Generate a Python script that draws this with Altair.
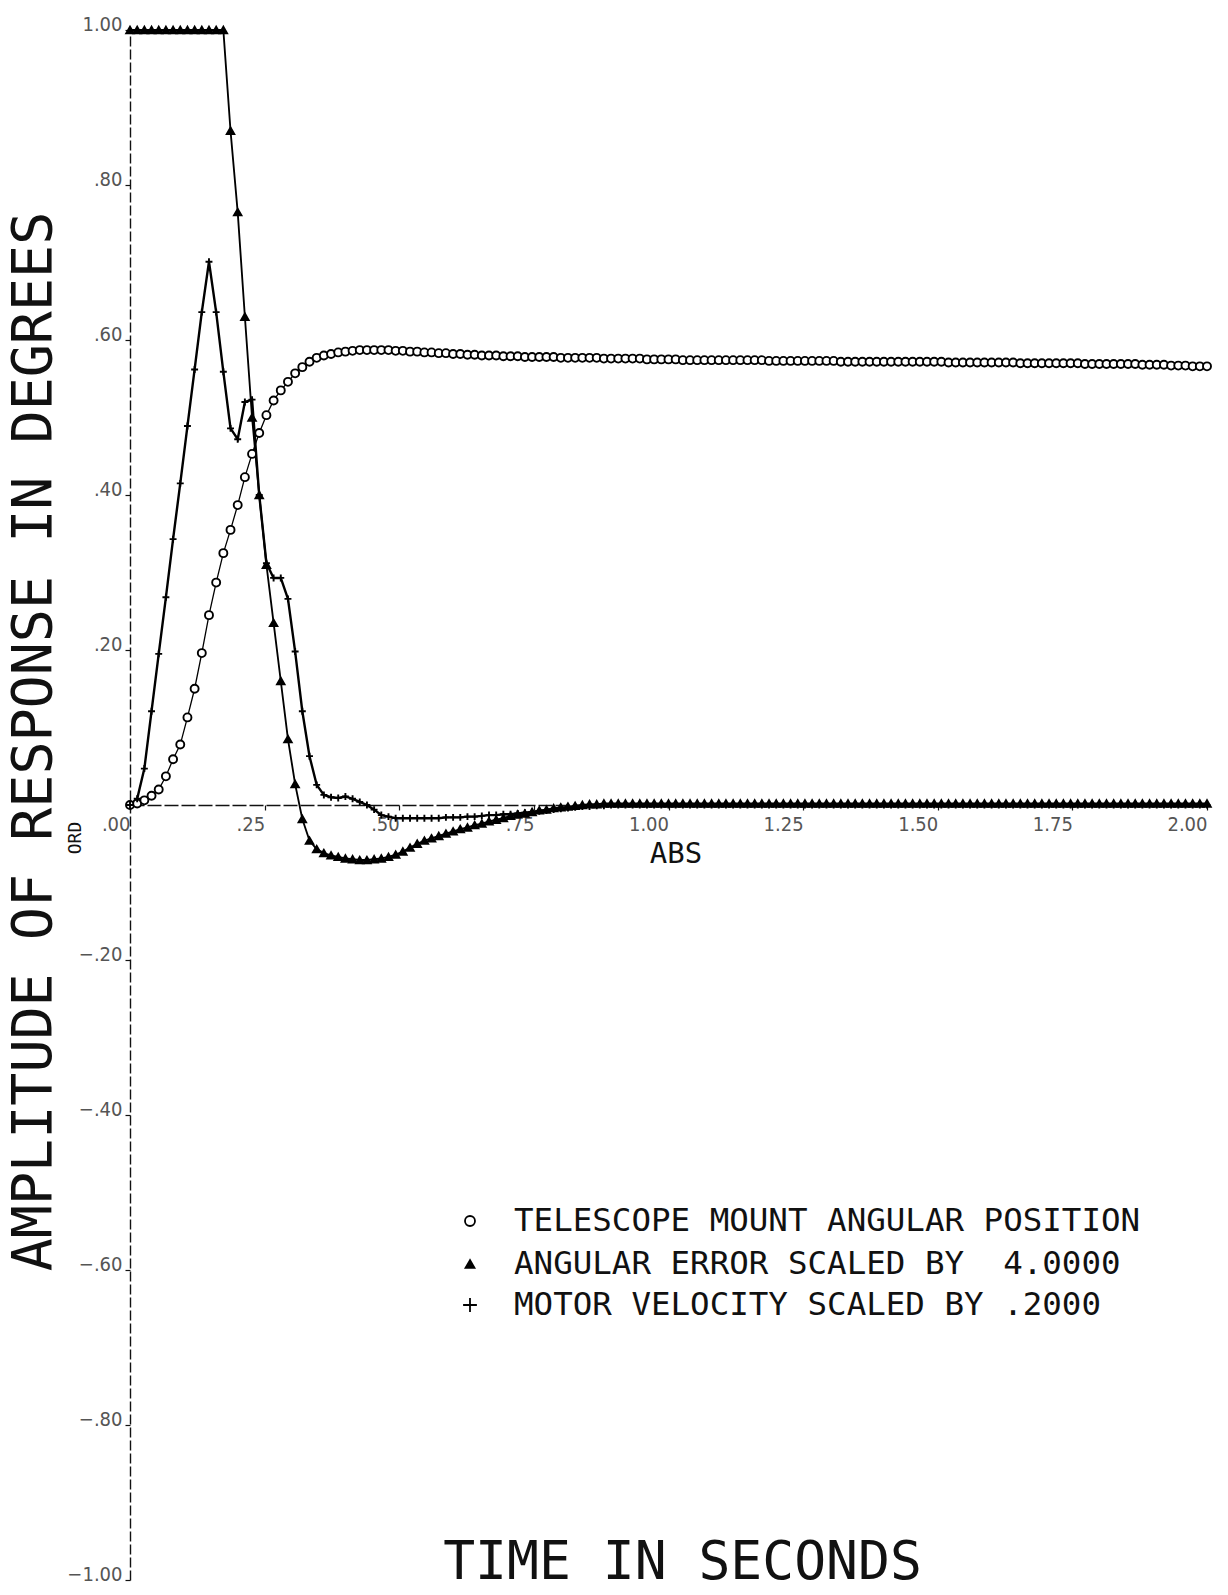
import altair as alt
import pandas as pd

# Samples are plotted every 1/75 s from 0 to 2 s (151 samples per trace).
SAMPLE_INTERVAL = 1 / 75

# Telescope mount angular position (degrees)
position = [
    0.000, 0.002, 0.006, 0.012, 0.020, 0.037, 0.059, 0.078, 0.113, 0.150,
    0.196, 0.245, 0.287, 0.325, 0.355, 0.387, 0.423, 0.453, 0.480, 0.503,
    0.522, 0.535, 0.546, 0.557, 0.565, 0.572, 0.577, 0.580, 0.582, 0.584,
    0.585, 0.586, 0.587, 0.587, 0.587, 0.587, 0.587, 0.586, 0.586, 0.585,
    0.585, 0.584, 0.584, 0.583, 0.583, 0.582, 0.582, 0.581, 0.581, 0.580,
    0.580, 0.580, 0.579, 0.579, 0.579, 0.578, 0.578, 0.578, 0.578, 0.578,
    0.577, 0.577, 0.577, 0.577, 0.577, 0.577, 0.576, 0.576, 0.576, 0.576,
    0.576, 0.576, 0.575, 0.575, 0.575, 0.575, 0.575, 0.574, 0.574, 0.574,
    0.574, 0.574, 0.574, 0.574, 0.574, 0.574, 0.574, 0.574, 0.574, 0.573,
    0.573, 0.573, 0.573, 0.573, 0.573, 0.573, 0.573, 0.573, 0.573, 0.572,
    0.572, 0.572, 0.572, 0.572, 0.572, 0.572, 0.572, 0.572, 0.572, 0.572,
    0.572, 0.572, 0.572, 0.572, 0.571, 0.571, 0.571, 0.571, 0.571, 0.571,
    0.571, 0.571, 0.571, 0.571, 0.570, 0.570, 0.570, 0.570, 0.570, 0.570,
    0.570, 0.570, 0.570, 0.569, 0.569, 0.569, 0.569, 0.569, 0.569, 0.569,
    0.569, 0.568, 0.568, 0.568, 0.568, 0.567, 0.567, 0.567, 0.566, 0.566,
    0.566,
]

# Angular error, scaled by 4 (clipped at the top of the frame)
error_x4 = [
    1.000, 1.000, 1.000, 1.000, 1.000, 1.000, 1.000, 1.000, 1.000, 1.000,
    1.000, 1.000, 1.000, 1.000, 0.870, 0.765, 0.630, 0.500, 0.400, 0.310,
    0.235, 0.160, 0.085, 0.027, -0.018, -0.046, -0.057, -0.062, -0.065, -0.067,
    -0.069, -0.070, -0.071, -0.071, -0.070, -0.069, -0.067, -0.064, -0.060, -0.055,
    -0.050, -0.046, -0.043, -0.040, -0.037, -0.034, -0.031, -0.029, -0.026, -0.024,
    -0.021, -0.019, -0.017, -0.014, -0.012, -0.011, -0.009, -0.007, -0.006, -0.004,
    -0.003, -0.002, -0.001, 0.000, 0.001, 0.001, 0.002, 0.002, 0.002, 0.002,
    0.002, 0.002, 0.002, 0.002, 0.002, 0.002, 0.002, 0.002, 0.002, 0.002,
    0.002, 0.002, 0.002, 0.002, 0.002, 0.002, 0.002, 0.002, 0.002, 0.002,
    0.002, 0.002, 0.002, 0.002, 0.002, 0.002, 0.002, 0.002, 0.002, 0.002,
    0.002, 0.002, 0.002, 0.002, 0.002, 0.002, 0.002, 0.002, 0.002, 0.002,
    0.002, 0.002, 0.002, 0.002, 0.002, 0.002, 0.002, 0.002, 0.002, 0.002,
    0.002, 0.002, 0.002, 0.002, 0.002, 0.002, 0.002, 0.002, 0.002, 0.002,
    0.002, 0.002, 0.002, 0.002, 0.002, 0.002, 0.002, 0.002, 0.002, 0.002,
    0.002, 0.002, 0.002, 0.002, 0.002, 0.002, 0.002, 0.002, 0.002, 0.002,
    0.002,
]

# Motor velocity, scaled by 0.2
velocity_x02 = [
    0.000, 0.008, 0.047, 0.121, 0.195, 0.268, 0.343, 0.415, 0.489, 0.562,
    0.636, 0.701, 0.636, 0.559, 0.486, 0.472, 0.520, 0.523, 0.400, 0.312,
    0.293, 0.293, 0.266, 0.198, 0.121, 0.063, 0.026, 0.013, 0.010, 0.009,
    0.011, 0.008, 0.004, 0.000, -0.006, -0.013, -0.015, -0.017, -0.017, -0.017,
    -0.017, -0.017, -0.017, -0.017, -0.016, -0.016, -0.016, -0.015, -0.015, -0.014,
    -0.013, -0.013, -0.012, -0.012, -0.011, -0.010, -0.009, -0.008, -0.007, -0.006,
    -0.005, -0.004, -0.003, -0.002, -0.002, -0.001, -0.001, 0.000, 0.000, 0.000,
    0.000, 0.000, 0.000, 0.000, 0.000, 0.000, 0.000, 0.000, 0.000, 0.000,
    0.000, 0.000, 0.000, 0.000, 0.000, 0.000, 0.000, 0.000, 0.000, 0.000,
    0.000, 0.000, 0.000, 0.000, 0.000, 0.000, 0.000, 0.000, 0.000, 0.000,
    0.000, 0.000, 0.000, 0.000, 0.000, 0.000, 0.000, 0.000, 0.000, 0.000,
    0.000, 0.000, 0.000, 0.000, 0.000, 0.000, 0.000, 0.000, 0.000, 0.000,
    0.000, 0.000, 0.000, 0.000, 0.000, 0.000, 0.000, 0.000, 0.000, 0.000,
    0.000, 0.000, 0.000, 0.000, 0.000, 0.000, 0.000, 0.000, 0.000, 0.000,
    0.000, 0.000, 0.000, 0.000, 0.000, 0.000, 0.000, 0.000, 0.000, 0.000,
    0.000,
]

series_labels = [
    "TELESCOPE MOUNT ANGULAR POSITION",
    "ANGULAR ERROR SCALED BY\u00a0 4.0000",
    "MOTOR VELOCITY SCALED BY .2000",
]

x_ticks = [0.0, 0.25, 0.5, 0.75, 1.0, 1.25, 1.5, 1.75, 2.0]
y_ticks = [1.0, 0.8, 0.6, 0.4, 0.2, -0.2, -0.4, -0.6, -0.8, -1.0]

rows = []
for label, values in zip(series_labels, [position, error_x4, velocity_x02]):
    for k, v in enumerate(values):
        rows.append({"series": label, "t": k * SAMPLE_INTERVAL, "amp": v})
df = pd.DataFrame(rows)

W, H = 1077, 1550
MONO = "DejaVu Sans Mono"
TICKFONT = "DejaVu Sans Condensed"
INK = "#111111"
FAINT = "#555555"

# drop the leading zero the way the plotter prints it: 0.25 -> .25
tick_expr = "replace(format(datum.value, '.2f'), '0.', '.')"

x_enc = alt.X(
    "t:Q",
    scale=alt.Scale(domain=[0, 2], nice=False, zero=False),
    axis=alt.Axis(
        values=x_ticks,
        labelExpr=tick_expr,
        offset=-(H / 2),
        grid=False,
        domainColor=INK,
        domainWidth=1.4,
        domainDash=[14, 3],
        tickColor=INK,
        tickSize=5,
        tickWidth=1.2,
        labelFont=TICKFONT,
        labelFontSize=20,
        labelColor=FAINT,
        labelAlign="right",
        labelBaseline="top",
        labelPadding=4,
        labelFlush=False,
        labelOverlap=False,
        title="TIME IN SECONDS",
        titleFont=MONO,
        titleFontSize=53,
        titleFontWeight="normal",
        titleColor=INK,
        titleX=552,
        titleY=773,
        titleAlign="center",
        titleBaseline="alphabetic",
    ),
)

y_enc = alt.Y(
    "amp:Q",
    scale=alt.Scale(domain=[-1, 1], nice=False, zero=False),
    axis=alt.Axis(
        values=y_ticks,
        labelExpr=tick_expr,
        grid=False,
        domainColor=INK,
        domainWidth=1.4,
        domainDash=[10, 3],
        tickColor=INK,
        tickSize=5,
        tickWidth=1.2,
        labelFont=TICKFONT,
        labelFontSize=20,
        labelColor=FAINT,
        labelBaseline="alphabetic",
        labelPadding=3,
        labelFlush=False,
        labelOverlap=False,
        title="AMPLITUDE OF RESPONSE IN DEGREES",
        titleFont=MONO,
        titleFontSize=55,
        titleFontWeight="normal",
        titleColor=INK,
        titleAngle=270,
        titleX=-80,
        titleY=711,
        titleAlign="center",
        titleBaseline="alphabetic",
    ),
)

shape_scale = alt.Scale(
    domain=series_labels,
    range=["circle", "triangle-up", "M-1,0H1M0,-1V1"],
)
fill_scale = alt.Scale(domain=series_labels, range=["white", "black", "transparent"])

base = alt.Chart(df)

traces = base.mark_line(color="black").encode(
    x=x_enc,
    y=y_enc,
    detail="series:N",
    strokeWidth=alt.StrokeWidth(
        "series:N",
        scale=alt.Scale(domain=series_labels, range=[1.3, 2.4, 1.4]),
        legend=None,
    ),
)

markers = base.mark_point(color="black", strokeWidth=1.9, opacity=1).encode(
    x="t:Q",
    y="amp:Q",
    shape=alt.Shape("series:N", scale=shape_scale, legend=None),
    fill=alt.Fill("series:N", scale=fill_scale, legend=None),
    size=alt.Size(
        "series:N",
        scale=alt.Scale(domain=series_labels, range=[64, 48, 110]),
        legend=None,
    ),
)

abs_label = alt.Chart(pd.DataFrame({"label": ["ABS"]})).mark_text(
    font=MONO, fontSize=29, color=INK, align="center", baseline="alphabetic"
).encode(x=alt.value(546), y=alt.value(833), text="label:N")

ord_label = alt.Chart(pd.DataFrame({"label": ["ORD"]})).mark_text(
    font=MONO, fontSize=18, color=INK, align="center", baseline="alphabetic", angle=270
).encode(x=alt.value(-49), y=alt.value(808), text="label:N")

# Key in the lower middle of the frame: symbol column, then the caption.
KEY_SYMBOL_X = 340
KEY_TEXT_X = 384
KEY_ROW_Y = [1191, 1234, 1275]
KEY_SYMBOL_SIZE = [100, 80, 190]
key_layers = []
for label, row_y, sym_size in zip(series_labels, KEY_ROW_Y, KEY_SYMBOL_SIZE):
    row = alt.Chart(pd.DataFrame({"series": [label]}))
    key_layers.append(
        row.mark_point(color="black", strokeWidth=1.8, opacity=1, size=sym_size).encode(
            x=alt.value(KEY_SYMBOL_X),
            y=alt.value(row_y),
            shape=alt.Shape("series:N", scale=shape_scale, legend=None),
            fill=alt.Fill("series:N", scale=fill_scale, legend=None),
        )
    )
    key_layers.append(
        row.mark_text(
            font=MONO, fontSize=32.5, color=INK, align="left", baseline="middle"
        ).encode(x=alt.value(KEY_TEXT_X), y=alt.value(row_y), text="series:N")
    )

chart = (
    alt.layer(traces, markers, abs_label, ord_label, *key_layers)
    .properties(
        width=W,
        height=H,
        padding={"left": 130, "top": 30, "right": 21, "bottom": 15},
        autosize=alt.AutoSizeParams(type="none"),
        background="white",
    )
    .configure_view(stroke=None)
)

chart.save("out.html", embed_options={"renderer": "svg", "actions": False})
